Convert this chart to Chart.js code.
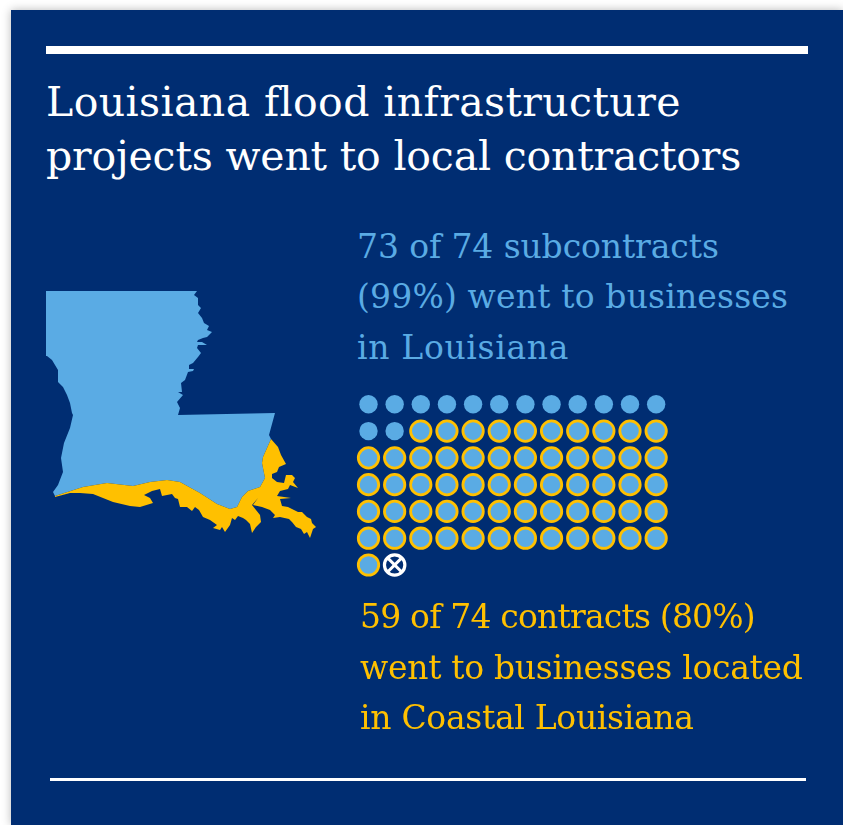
<!DOCTYPE html>
<html>
<head>
<meta charset="utf-8">
<title>Louisiana flood infrastructure projects</title>
<script src="https://cdn.jsdelivr.net/npm/chart.js@4"></script>
<style>
  html, body { margin: 0; padding: 0; background: #fff; overflow: hidden; }
  #page { position: relative; width: 843px; height: 825px; }
  #card { position: absolute; left: 11px; top: 10px; right: 0; bottom: 0; background: #002d72; box-shadow: 0 0 9px rgba(0,0,0,.28); }
  canvas { position: absolute; left: 0; top: 0; }
  .rule { position: absolute; background: #fff; }
  .txt { position: absolute; white-space: nowrap; font-family: "DejaVu Serif", serif; }
  .title { font-size: 41px; color: #fff; left: 46px; }
  .blue { font-size: 33px; color: #5aabe4; left: 357px; }
  .gold { font-size: 33px; color: #ffc000; left: 360px; }
</style>
</head>
<body>
<div id="page">
  <div id="card"></div>
  <div class="rule" style="left:46px;top:46px;width:762px;height:8px"></div>
  <div class="txt title" style="top:78px;letter-spacing:.4px">Louisiana flood infrastructure</div>
  <div class="txt title" style="top:132px;letter-spacing:-.18px">projects went to local contractors</div>
  <div class="txt blue" style="top:227px;letter-spacing:-.1px">73 of 74 subcontracts</div>
  <div class="txt blue" style="top:277px;letter-spacing:.17px">(99%) went to businesses</div>
  <div class="txt blue" style="top:328px;letter-spacing:.67px">in Louisiana</div>
  <canvas id="unitChart" width="843" height="825"></canvas>
  <div class="txt gold" style="top:597px;letter-spacing:-.8px">59 of 74 contracts (80%)</div>
  <div class="txt gold" style="top:648px;letter-spacing:-.3px">went to businesses located</div>
  <div class="txt gold" style="top:698px;letter-spacing:-.3px">in Coastal Louisiana</div>
  <div class="rule" style="left:50px;top:778px;width:756px;height:2.5px"></div>
</div>
<script>
// contract counts, one dot per contract
var inStateOnly = 14;
var inCoastal = 59;
var outOfState = 1;
var perRow = 12;

// state outline, x/y in map units from the north-west corner
var stateOutline = [[0,0],[151,0],[148,4],[152,7],[152,14],[155,17],[152,22],[156,27],[158,32],[163,35],[161,39],[166,41],[161,46],[157,47],[152,49],[151,51],[156,51],[161,54],[152,54],[151,57],[155,62],[152,66],[147,72],[143,74],[143,78],[148,78],[147,80],[142,81],[139,89],[135,92],[136,101],[132,101],[137,104],[131,111],[134,117],[132,124],[229,122],[223,144],[225,148],[217,166],[216,172],[219,187],[214,196],[202,200],[196,206],[191,216],[184,218],[171,213],[154,202],[134,191],[121,189],[104,191],[87,195],[61,192],[37,196],[9,205],[7,201],[12,194],[17,181],[15,167],[18,152],[24,137],[27,124],[26,122],[24,112],[21,104],[17,96],[12,91],[12,79],[6,69],[1,65],[0,65],[0,0]];

// coastal parishes band
var coastOutline = [[9,205],[37,196],[61,192],[87,195],[104,191],[121,189],[134,191],[154,202],[171,213],[184,218],[191,216],[196,206],[202,200],[214,196],[219,187],[216,172],[217,166],[225,148],[232,156],[235,164],[240,173],[233,176],[231,181],[226,183],[226,187],[231,191],[238,192],[240,184],[246,184],[249,187],[247,191],[252,197],[244,194],[242,198],[234,200],[231,205],[245,207],[234,208],[236,215],[242,216],[248,219],[252,221],[256,221],[261,226],[265,228],[266,232],[270,236],[267,238],[266,241],[264,247],[261,241],[258,243],[255,238],[250,236],[246,231],[243,228],[234,226],[227,227],[229,224],[224,219],[216,216],[207,214],[212,207],[206,214],[214,224],[215,231],[210,236],[206,242],[204,233],[200,229],[197,227],[192,225],[189,229],[186,227],[184,234],[179,241],[176,236],[174,239],[167,237],[171,234],[164,229],[157,226],[153,219],[149,216],[146,220],[141,216],[134,216],[132,208],[129,207],[126,203],[116,205],[114,198],[106,200],[98,204],[104,207],[107,212],[94,216],[84,215],[67,211],[47,203],[34,202],[24,202],[9,206],[9,205]];

var navy = '#002d72', blue = '#5aabe4', gold = '#ffc000';

function toPoints(list) {
    return list.map(function (p) { return {x: p[0], y: p[1]}; });
}

// lay the contracts out in reading order, returns one list per group
function unitGroups() {
    var groups = [[], [], []];
    var counts = [inStateOnly, inCoastal, outOfState];
    var n = 0;
    counts.forEach(function (count, g) {
        for (var i = 0; i < count; i++) {
            groups[g].push({x: n % perRow, y: Math.floor(n / perRow)});
            n++;
        }
    });
    return groups;
}

var units = unitGroups();
var W = 843, H = 825;
var colStep = 26.15, rowStep = 26.78, gridLeft = 368.5, gridTop = 404.3;
var mapLeft = 46, mapTop = 291;

function hidden(axis, min, max, reverse) {
    return {type: 'linear', axis: axis, display: false, min: min, max: max, reverse: !!reverse};
}

var ctx = document.getElementById('unitChart').getContext('2d');
var chart = new Chart(ctx, {
    type: 'scatter',
    data: {
        datasets: [
            {label: 'Louisiana', data: toPoints(stateOutline), xAxisID: 'mapX', yAxisID: 'mapY', showLine: true, fill: 'shape', backgroundColor: blue, borderWidth: 0, pointRadius: 0, tension: 0, order: 6},
            {label: 'Coastal Louisiana', data: toPoints(coastOutline), xAxisID: 'mapX', yAxisID: 'mapY', showLine: true, fill: 'shape', backgroundColor: gold, borderWidth: 0, pointRadius: 0, tension: 0, order: 5},
            {label: 'Businesses in Louisiana', data: units[0], xAxisID: 'unitX', yAxisID: 'unitY', pointRadius: 9.2, backgroundColor: blue, borderWidth: 0, order: 4},
            {label: 'Businesses in Coastal Louisiana', data: units[1], xAxisID: 'unitX', yAxisID: 'unitY', pointRadius: 10.2, backgroundColor: blue, borderColor: gold, borderWidth: 2.8, order: 3},
            {label: 'Outside Louisiana', data: units[2], xAxisID: 'unitX', yAxisID: 'unitY', pointRadius: 10.2, backgroundColor: navy, borderColor: '#fff', borderWidth: 3.2, order: 2},
            {label: 'Outside Louisiana cross', data: units[2], xAxisID: 'unitX', yAxisID: 'unitY', pointStyle: 'crossRot', pointRadius: 10, borderColor: '#fff', borderWidth: 3, order: 1}
        ]
    },
    options: {
        responsive: false,
        animation: false,
        layout: {padding: 0, autoPadding: false},
        plugins: {legend: {display: false}, tooltip: {enabled: false}},
        scales: {
            mapX: hidden('x', -mapLeft, W - mapLeft),
            mapY: hidden('y', -mapTop, H - mapTop, true),
            unitX: hidden('x', -gridLeft / colStep, (W - gridLeft) / colStep),
            unitY: hidden('y', -gridTop / rowStep, (H - gridTop) / rowStep, true)
        }
    }
});
</script>
</body>
</html>
